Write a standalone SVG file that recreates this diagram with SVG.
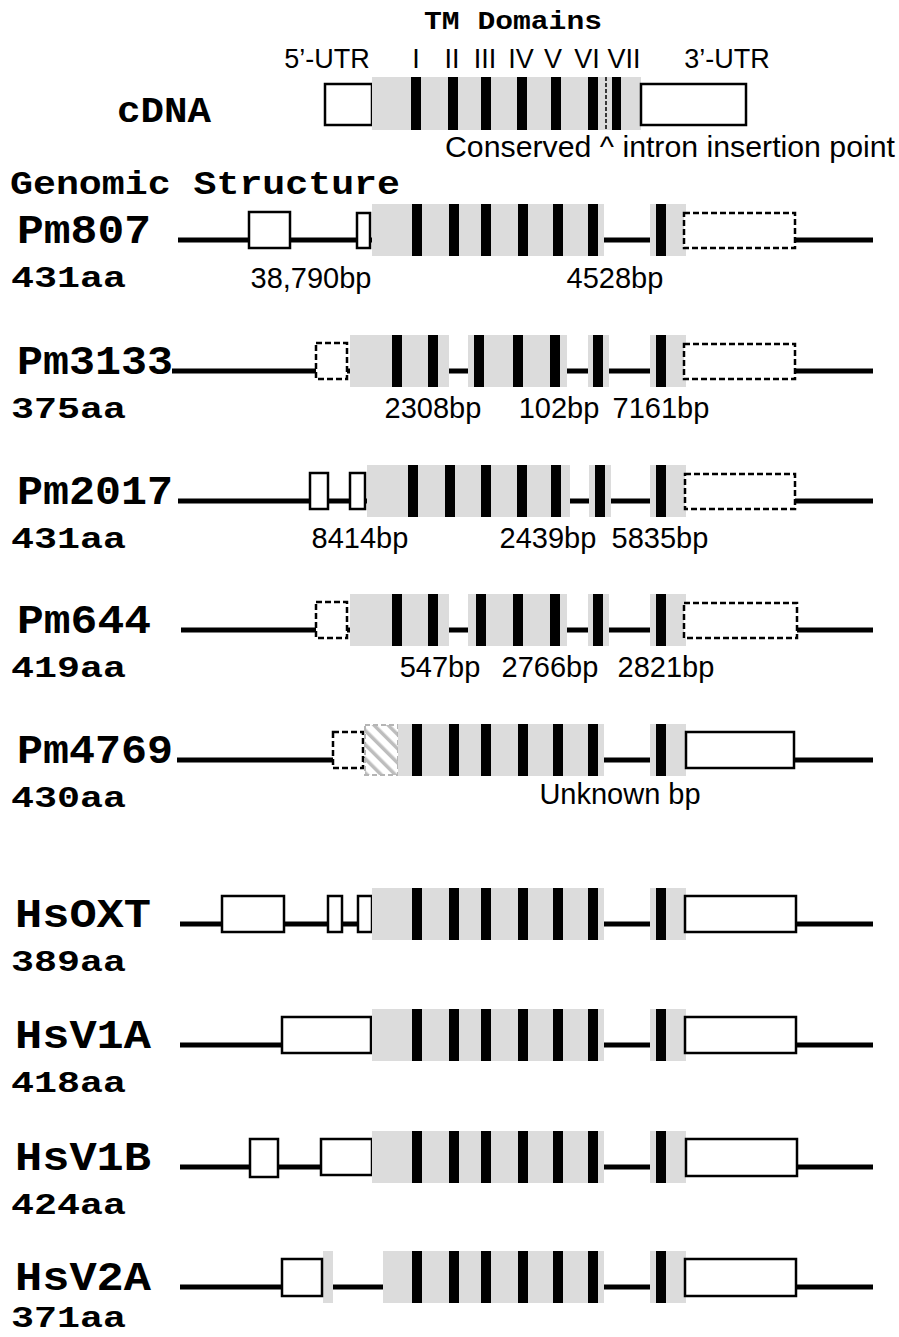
<svg xmlns="http://www.w3.org/2000/svg" width="899" height="1337" viewBox="0 0 899 1337">
<style>
.ln{stroke:#000;stroke-width:5;fill:none}
.bx{fill:#fff;stroke:#000;stroke-width:2.5}
.dbx{fill:#fff;stroke:#000;stroke-width:2.5;stroke-dasharray:6 3}
.gr{fill:#dcdcdc}
.tm{fill:#000}
.mono{font-family:"Courier New","Liberation Mono",monospace;font-weight:bold;fill:#000}
.name{font-size:41px}
.aa{font-size:30px}
.sans{font-family:"Liberation Sans",Arial,sans-serif;fill:#000}
.bp{font-size:29px;text-anchor:middle}
.rl{font-size:27px;text-anchor:middle}
</style>
<defs>
<pattern id="hatch" patternUnits="userSpaceOnUse" width="10" height="10" patternTransform="rotate(-45)">
<rect width="10" height="10" fill="#fff"/>
<rect x="0" y="0" width="3.5" height="10" fill="#bdbdbd"/>
</pattern>
</defs>
<rect width="899" height="1337" fill="#fff"/>

<g id="header">
<text class="mono" x="424" y="29" font-size="26" textLength="178" lengthAdjust="spacingAndGlyphs">TM Domains</text>
<text class="sans rl" x="327" y="68">5’-UTR</text>
<text class="sans rl" x="416" y="68">I</text>
<text class="sans rl" x="452" y="68">II</text>
<text class="sans rl" x="485" y="68">III</text>
<text class="sans rl" x="521" y="68">IV</text>
<text class="sans rl" x="553" y="68">V</text>
<text class="sans rl" x="587" y="68">VI</text>
<text class="sans rl" x="624" y="68">VII</text>
<text class="sans rl" x="727" y="68">3’-UTR</text>
</g>

<g id="cDNA">
<text class="mono" x="117" y="122" font-size="36" textLength="94" lengthAdjust="spacingAndGlyphs">cDNA</text>
<rect class="bx" x="325" y="84" width="47" height="41"/>
<rect class="gr" x="372" y="77" width="269" height="53"/>
<rect class="tm" x="411" y="77" width="10" height="53"/>
<rect class="tm" x="448" y="77" width="10" height="53"/>
<rect class="tm" x="481" y="77" width="10" height="53"/>
<rect class="tm" x="517" y="77" width="10" height="53"/>
<rect class="tm" x="551" y="77" width="10" height="53"/>
<rect class="tm" x="588" y="77" width="10" height="53"/>
<line x1="606" y1="77" x2="606" y2="130" stroke="#000" stroke-width="1.5" stroke-dasharray="4 2"/>
<rect class="tm" x="612" y="77" width="9" height="53"/>
<rect class="bx" x="641" y="84" width="105" height="41"/>
<text class="sans" x="445" y="157" font-size="29" textLength="450" lengthAdjust="spacingAndGlyphs">Conserved ^ intron insertion point</text>
</g>

<text class="mono" x="10" y="194" font-size="34" textLength="390" lengthAdjust="spacingAndGlyphs">Genomic Structure</text>

<g id="connectors">
<line class="ln" x1="178" y1="240" x2="873" y2="240"/>
<line class="ln" x1="172" y1="371" x2="873" y2="371"/>
<line class="ln" x1="178" y1="501" x2="873" y2="501"/>
<line class="ln" x1="181" y1="630" x2="873" y2="630"/>
<line class="ln" x1="177" y1="760" x2="873" y2="760"/>
<line class="ln" x1="180" y1="924" x2="873" y2="924"/>
<line class="ln" x1="180" y1="1045" x2="873" y2="1045"/>
<line class="ln" x1="180" y1="1167" x2="873" y2="1167"/>
<line class="ln" x1="180" y1="1287" x2="873" y2="1287"/>
</g>

<g id="Pm807">
<text class="mono name" x="17" y="243" textLength="134" lengthAdjust="spacingAndGlyphs">Pm807</text>
<text class="mono aa" x="11" y="287" textLength="115" lengthAdjust="spacingAndGlyphs">431aa</text>
<rect class="bx" x="249" y="212" width="41" height="36"/>
<rect class="bx" x="357" y="213" width="13" height="35"/>
<rect class="gr" x="372" y="204" width="232" height="52"/>
<rect class="tm" x="412" y="204" width="10" height="52"/>
<rect class="tm" x="449" y="204" width="10" height="52"/>
<rect class="tm" x="481" y="204" width="10" height="52"/>
<rect class="tm" x="518" y="204" width="10" height="52"/>
<rect class="tm" x="553" y="204" width="10" height="52"/>
<rect class="tm" x="588" y="204" width="10" height="52"/>
<rect class="gr" x="650" y="204" width="36" height="52"/>
<rect class="tm" x="656" y="204" width="10" height="52"/>
<rect class="dbx" x="684" y="213" width="111" height="35"/>
<text class="sans bp" x="311" y="288">38,790bp</text>
<text class="sans bp" x="615" y="288">4528bp</text>
</g>

<g id="Pm3133">
<text class="mono name" x="17" y="374" textLength="156" lengthAdjust="spacingAndGlyphs">Pm3133</text>
<text class="mono aa" x="11" y="418" textLength="115" lengthAdjust="spacingAndGlyphs">375aa</text>
<rect class="dbx" x="316" y="343" width="31" height="36"/>
<rect class="gr" x="350" y="335" width="99" height="52"/>
<rect class="gr" x="468" y="335" width="99" height="52"/>
<rect class="gr" x="588" y="335" width="21" height="52"/>
<rect class="gr" x="650" y="335" width="36" height="52"/>
<rect class="tm" x="392" y="335" width="10" height="52"/>
<rect class="tm" x="428" y="335" width="10" height="52"/>
<rect class="tm" x="474" y="335" width="10" height="52"/>
<rect class="tm" x="513" y="335" width="10" height="52"/>
<rect class="tm" x="550" y="335" width="10" height="52"/>
<rect class="tm" x="593" y="335" width="10" height="52"/>
<rect class="tm" x="656" y="335" width="10" height="52"/>
<rect class="dbx" x="684" y="344" width="111" height="35"/>
<text class="sans bp" x="433" y="418">2308bp</text>
<text class="sans bp" x="559" y="418">102bp</text>
<text class="sans bp" x="661" y="418">7161bp</text>
</g>

<g id="Pm2017">
<text class="mono name" x="17" y="504" textLength="156" lengthAdjust="spacingAndGlyphs">Pm2017</text>
<text class="mono aa" x="11" y="548" textLength="115" lengthAdjust="spacingAndGlyphs">431aa</text>
<rect class="bx" x="310" y="473" width="18" height="36"/>
<rect class="bx" x="350" y="473" width="15" height="36"/>
<rect class="gr" x="367" y="465" width="203" height="52"/>
<rect class="gr" x="589" y="465" width="22" height="52"/>
<rect class="gr" x="650" y="465" width="36" height="52"/>
<rect class="tm" x="408" y="465" width="10" height="52"/>
<rect class="tm" x="445" y="465" width="10" height="52"/>
<rect class="tm" x="481" y="465" width="10" height="52"/>
<rect class="tm" x="517" y="465" width="10" height="52"/>
<rect class="tm" x="551" y="465" width="10" height="52"/>
<rect class="tm" x="595" y="465" width="10" height="52"/>
<rect class="tm" x="656" y="465" width="10" height="52"/>
<rect class="dbx" x="685" y="474" width="110" height="35"/>
<text class="sans bp" x="360" y="548">8414bp</text>
<text class="sans bp" x="548" y="548">2439bp</text>
<text class="sans bp" x="660" y="548">5835bp</text>
</g>

<g id="Pm644">
<text class="mono name" x="17" y="633" textLength="134" lengthAdjust="spacingAndGlyphs">Pm644</text>
<text class="mono aa" x="11" y="677" textLength="115" lengthAdjust="spacingAndGlyphs">419aa</text>
<rect class="dbx" x="316" y="602" width="31" height="36"/>
<rect class="gr" x="350" y="594" width="99" height="52"/>
<rect class="gr" x="468" y="594" width="99" height="52"/>
<rect class="gr" x="588" y="594" width="21" height="52"/>
<rect class="gr" x="650" y="594" width="36" height="52"/>
<rect class="tm" x="392" y="594" width="10" height="52"/>
<rect class="tm" x="428" y="594" width="10" height="52"/>
<rect class="tm" x="476" y="594" width="10" height="52"/>
<rect class="tm" x="513" y="594" width="10" height="52"/>
<rect class="tm" x="550" y="594" width="10" height="52"/>
<rect class="tm" x="593" y="594" width="10" height="52"/>
<rect class="tm" x="656" y="594" width="10" height="52"/>
<rect class="dbx" x="684" y="603" width="113" height="35"/>
<text class="sans bp" x="440" y="677">547bp</text>
<text class="sans bp" x="550" y="677">2766bp</text>
<text class="sans bp" x="666" y="677">2821bp</text>
</g>

<g id="Pm4769">
<text class="mono name" x="17" y="763" textLength="156" lengthAdjust="spacingAndGlyphs">Pm4769</text>
<text class="mono aa" x="11" y="807" textLength="115" lengthAdjust="spacingAndGlyphs">430aa</text>
<rect class="dbx" x="333" y="732" width="30" height="36"/>
<rect x="365" y="725" width="33" height="50" fill="url(#hatch)" stroke="#b5b5b5" stroke-width="2" stroke-dasharray="5 3"/>
<rect class="gr" x="398" y="724" width="206" height="52"/>
<rect class="tm" x="412" y="724" width="10" height="52"/>
<rect class="tm" x="449" y="724" width="10" height="52"/>
<rect class="tm" x="481" y="724" width="10" height="52"/>
<rect class="tm" x="518" y="724" width="10" height="52"/>
<rect class="tm" x="553" y="724" width="10" height="52"/>
<rect class="tm" x="588" y="724" width="10" height="52"/>
<rect class="gr" x="650" y="724" width="36" height="52"/>
<rect class="tm" x="656" y="724" width="10" height="52"/>
<rect class="bx" x="686" y="732" width="108" height="36"/>
<text class="sans bp" x="620" y="804">Unknown bp</text>
</g>

<g id="HsOXT">
<text class="mono name" x="15" y="927" textLength="136" lengthAdjust="spacingAndGlyphs">HsOXT</text>
<text class="mono aa" x="11" y="971" textLength="115" lengthAdjust="spacingAndGlyphs">389aa</text>
<rect class="bx" x="222" y="896" width="62" height="36"/>
<rect class="bx" x="328" y="896" width="14" height="36"/>
<rect class="bx" x="358" y="896" width="14" height="36"/>
<rect class="gr" x="372" y="888" width="232" height="52"/>
<rect class="tm" x="412" y="888" width="10" height="52"/>
<rect class="tm" x="449" y="888" width="10" height="52"/>
<rect class="tm" x="481" y="888" width="10" height="52"/>
<rect class="tm" x="518" y="888" width="10" height="52"/>
<rect class="tm" x="553" y="888" width="10" height="52"/>
<rect class="tm" x="588" y="888" width="10" height="52"/>
<rect class="gr" x="650" y="888" width="36" height="52"/>
<rect class="tm" x="656" y="888" width="10" height="52"/>
<rect class="bx" x="685" y="896" width="111" height="36"/>
</g>

<g id="HsV1A">
<text class="mono name" x="15" y="1048" textLength="136" lengthAdjust="spacingAndGlyphs">HsV1A</text>
<text class="mono aa" x="11" y="1092" textLength="115" lengthAdjust="spacingAndGlyphs">418aa</text>
<rect class="bx" x="282" y="1017" width="89" height="36"/>
<rect class="gr" x="372" y="1009" width="232" height="52"/>
<rect class="tm" x="412" y="1009" width="10" height="52"/>
<rect class="tm" x="449" y="1009" width="10" height="52"/>
<rect class="tm" x="481" y="1009" width="10" height="52"/>
<rect class="tm" x="518" y="1009" width="10" height="52"/>
<rect class="tm" x="553" y="1009" width="10" height="52"/>
<rect class="tm" x="588" y="1009" width="10" height="52"/>
<rect class="gr" x="650" y="1009" width="36" height="52"/>
<rect class="tm" x="656" y="1009" width="10" height="52"/>
<rect class="bx" x="685" y="1017" width="111" height="36"/>
</g>

<g id="HsV1B">
<text class="mono name" x="15" y="1170" textLength="136" lengthAdjust="spacingAndGlyphs">HsV1B</text>
<text class="mono aa" x="11" y="1214" textLength="115" lengthAdjust="spacingAndGlyphs">424aa</text>
<rect class="bx" x="250" y="1139" width="28" height="38"/>
<rect class="bx" x="321" y="1139" width="51" height="36"/>
<rect class="gr" x="372" y="1131" width="232" height="52"/>
<rect class="tm" x="412" y="1131" width="10" height="52"/>
<rect class="tm" x="449" y="1131" width="10" height="52"/>
<rect class="tm" x="481" y="1131" width="10" height="52"/>
<rect class="tm" x="518" y="1131" width="10" height="52"/>
<rect class="tm" x="553" y="1131" width="10" height="52"/>
<rect class="tm" x="588" y="1131" width="10" height="52"/>
<rect class="gr" x="650" y="1131" width="36" height="52"/>
<rect class="tm" x="656" y="1131" width="10" height="52"/>
<rect class="bx" x="686" y="1139" width="111" height="37"/>
</g>

<g id="HsV2A">
<text class="mono name" x="15" y="1290" textLength="136" lengthAdjust="spacingAndGlyphs">HsV2A</text>
<text class="mono aa" x="11" y="1327" textLength="115" lengthAdjust="spacingAndGlyphs">371aa</text>
<rect class="gr" x="323" y="1251" width="10" height="52"/>
<rect class="bx" x="282" y="1259" width="40" height="37"/>
<rect class="gr" x="383" y="1251" width="221" height="52"/>
<rect class="tm" x="412" y="1251" width="10" height="52"/>
<rect class="tm" x="449" y="1251" width="10" height="52"/>
<rect class="tm" x="481" y="1251" width="10" height="52"/>
<rect class="tm" x="518" y="1251" width="10" height="52"/>
<rect class="tm" x="553" y="1251" width="10" height="52"/>
<rect class="tm" x="588" y="1251" width="10" height="52"/>
<rect class="gr" x="650" y="1251" width="36" height="52"/>
<rect class="tm" x="656" y="1251" width="10" height="52"/>
<rect class="bx" x="685" y="1259" width="111" height="37"/>
</g>
</svg>
